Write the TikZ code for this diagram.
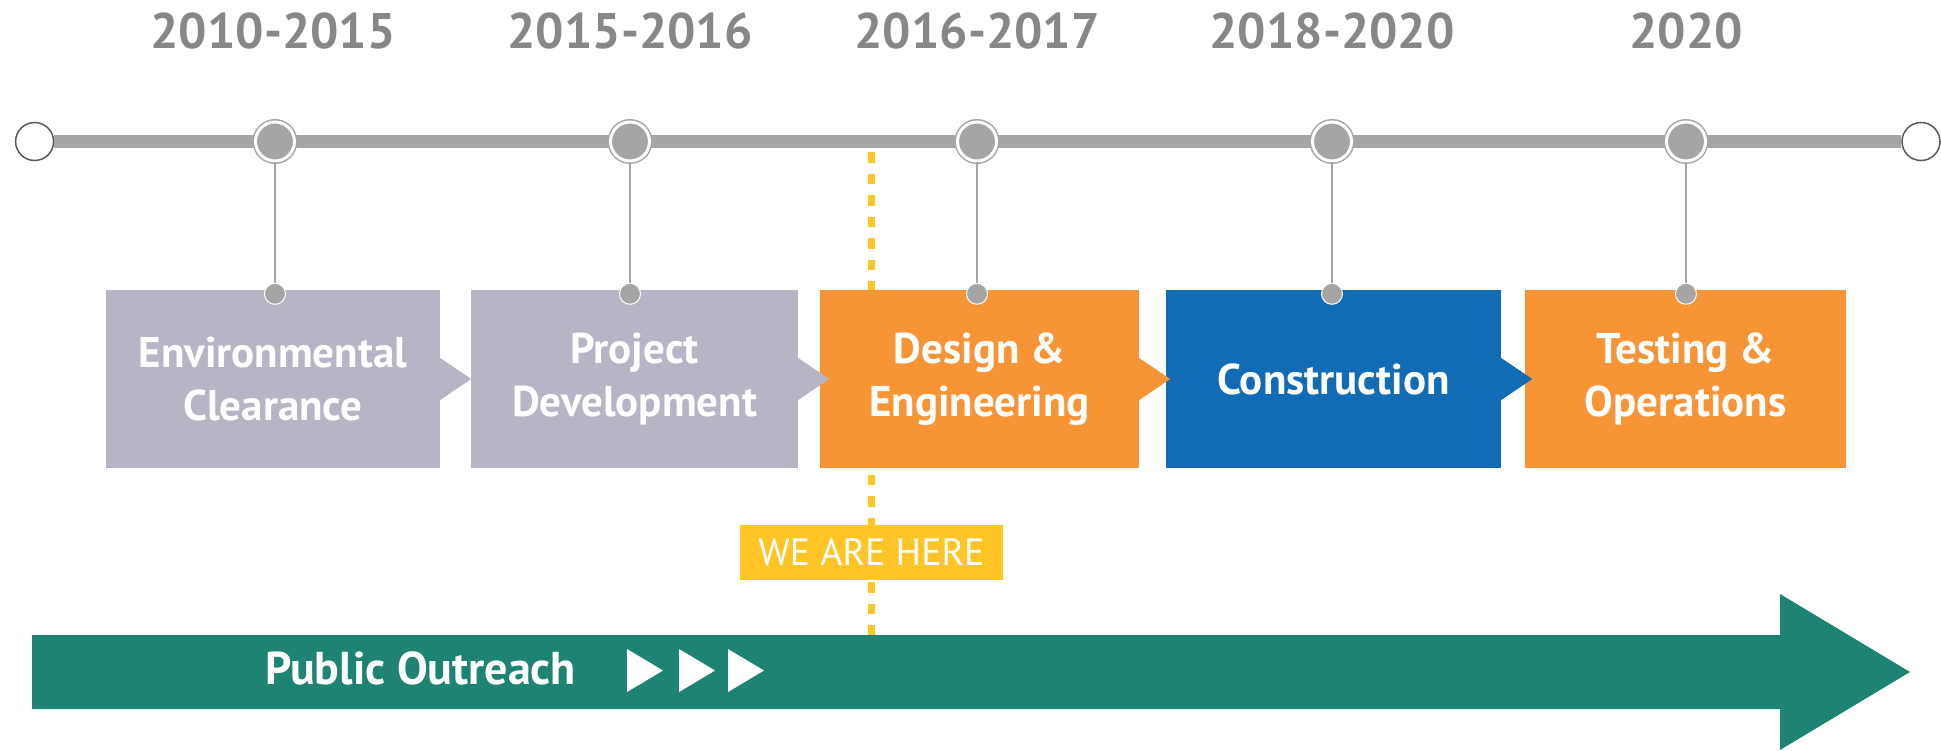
\documentclass[tikz,border=0pt]{standalone}
\usepackage{fontspec}
\setmainfont{PT Sans}
\usepackage{tikz}
\usetikzlibrary{calc}
\definecolor{tlgray}{HTML}{A6A5A6}
\definecolor{yeargray}{HTML}{878787}
\definecolor{ringgray}{HTML}{5A5A5A}
\definecolor{phasegray}{HTML}{B9B3C6}
\definecolor{phaseorange}{HTML}{F79435}
\definecolor{phaseblue}{HTML}{116CB5}
\definecolor{hereyellow}{HTML}{FFC425}
\definecolor{outreachgreen}{HTML}{1F8373}

\begin{document}
\begin{tikzpicture}[x=1pt,y=-1pt,
		endring/.style={circle,inner sep=0pt,minimum size=38,fill=white,draw=ringgray,line width=1.5pt},
		mile/.style={circle,inner sep=0pt,minimum size=39,fill=tlgray,draw=tlgray,line width=1.5pt,double=white,double distance=3pt},
		year/.style={anchor=base,text=yeargray,font=\fontsize{50}{50}\selectfont\bfseries},
		phase/.style={rectangle,inner sep=0pt,minimum height=178,fill=#1,text=white,align=center,font=\fontsize{43}{53}\selectfont\bfseries},
		pin/.style={circle,inner sep=0pt,minimum size=21,fill=tlgray,draw=white,line width=1pt},
		stem/.style={draw=tlgray,line width=2.5pt},
		tline/.style={draw=tlgray,line width=13pt}]
	\useasboundingbox (0,0) rectangle (1941,750);
	\fill[white] (0,0) rectangle (1941,750);
	\node [endring] (s0) at (34.6, 141.5) {};
	\node [endring] (s6) at (1921, 141.5) {};
	\draw [tline] (s0) -- (s6);
	\coordinate (h0) at (871, 152);
	\coordinate (h1) at (871, 635);
	\draw [hereyellow, line width=7pt, dash pattern=on 10.5pt off 11pt] (h0) -- (h1);
	\node [mile] (t1) at (275, 141.5) {};
	\node [mile] (t2) at (630, 141.5) {};
	\node [mile] (t3) at (977, 141.5) {};
	\node [mile] (t4) at (1332, 141.5) {};
	\node [mile] (t5) at (1686, 141.5) {};
	\node [year] (y1) at (273, 48) {2010-2015};
	\node [year] (y2) at (630, 48) {2015-2016};
	\node [year] (y3) at (977, 48) {2016-2017};
	\node [year] (y4) at (1332, 48) {2018-2020};
	\node [year] (y5) at (1686, 48) {2020};
	\node [phase=phasegray, minimum width=334] (b1) at (273, 379) {Environmental\\Clearance};
	\node [phase=phasegray, minimum width=327] (b2) at (634.5, 379) {Project\\Development};
	\node [phase=phaseorange, minimum width=319] (b3) at (979.5, 379) {Design \&\\Engineering};
	\node [phase=phaseblue, minimum width=335] (b4) at (1333.5, 379) {Construction};
	\node [phase=phaseorange, minimum width=321] (b5) at (1685.5, 379) {Testing \&\\Operations};
	\fill [phasegray] ($(b1.east)+(0,-21)$) -- ($(b1.east)+(31,0)$) -- ($(b1.east)+(0,21)$) -- cycle;
	\fill [phasegray] ($(b2.east)+(0,-21)$) -- ($(b2.east)+(31,0)$) -- ($(b2.east)+(0,21)$) -- cycle;
	\fill [phaseorange] ($(b3.east)+(0,-21)$) -- ($(b3.east)+(31,0)$) -- ($(b3.east)+(0,21)$) -- cycle;
	\fill [phaseblue] ($(b4.east)+(0,-21)$) -- ($(b4.east)+(31,0)$) -- ($(b4.east)+(0,21)$) -- cycle;
	\node [pin] (d1) at ($(t1 |- b1.north)+(0,4)$) {};
	\node [pin] (d2) at ($(t2 |- b2.north)+(0,4)$) {};
	\node [pin] (d3) at ($(t3 |- b3.north)+(0,4)$) {};
	\node [pin] (d4) at ($(t4 |- b4.north)+(0,4)$) {};
	\node [pin] (d5) at ($(t5 |- b5.north)+(0,4)$) {};
	\draw [stem] (t1) -- (d1);
	\draw [stem] (t2) -- (d2);
	\draw [stem] (t3) -- (d3);
	\draw [stem] (t4) -- (d4);
	\draw [stem] (t5) -- (d5);
	\node [fill=hereyellow, text=white, minimum width=263, minimum height=55, inner sep=0pt,
		font=\fontsize{38}{38}\selectfont] (here) at (871.5, 552.5) {WE ARE HERE};
	\fill [outreachgreen] (32,635) -- (1780,635) -- (1780,594) -- (1910,672) -- (1780,750) -- (1780,709) -- (32,709) -- cycle;
	\node [anchor=base west, text=white, inner sep=0pt, font=\fontsize{46}{46}\selectfont\bfseries] (po) at (265, 684) {Public Outreach};
	\fill [white] (627,649) -- (663,670.5) -- (627,692) -- cycle;
	\fill [white] (679,649) -- (715,670.5) -- (679,692) -- cycle;
	\fill [white] (728,649) -- (764,670.5) -- (728,692) -- cycle;
\end{tikzpicture}
\end{document}
